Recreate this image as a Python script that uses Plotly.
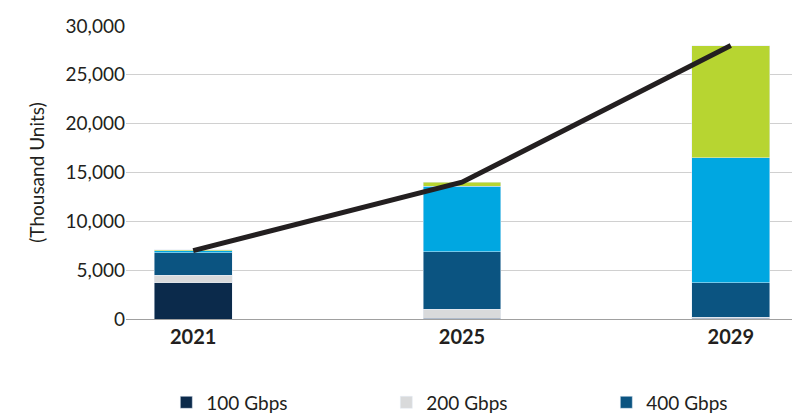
import plotly.graph_objects as go

years = ["2021", "2025", "2029"]
g100 = [3700, 100, 100]
g200 = [800, 900, 100]
g400 = [2300, 5900, 3500]
g800 = [200, 6700, 12800]
t16 = [100, 400, 11500]
total = [7000, 14000, 28000]

fig = go.Figure()
series = [("100 Gbps", g100, "#0b2a4b", "legend"), ("200 Gbps", g200, "#d9dadb", "legend"),
          ("400 Gbps", g400, "#0b5481", "legend"), ("800 Gbps", g800, "#00a7e1", "legend2"),
          ("1.6 Tbps", t16, "#b7d531", "legend2")]
for name, vals, col, lg in series:
    fig.add_trace(go.Bar(x=years, y=vals, name=name, marker_color=col, width=0.29, legend=lg))
fig.add_trace(go.Scatter(x=years, y=total, name="Total", mode="lines", legend="legend2",
                         line=dict(color="#231f20", width=5)))

leg = dict(orientation="h", x=0.06, xanchor="left", yanchor="top",
           entrywidth=175, entrywidthmode="pixels", font=dict(size=19),
           traceorder="normal", bgcolor="rgba(0,0,0,0)")
fig.update_layout(
    barmode="stack", width=800, height=415, plot_bgcolor="white", paper_bgcolor="white",
    font=dict(family="Lato", size=19, color="#231f20"),
    margin=dict(l=118, r=10, t=18, b=104, autoexpand=False),
    legend=dict(leg, y=-0.22),
    legend2=dict(leg, y=-0.37),
    yaxis=dict(range=[0, 30000], dtick=5000, tickformat=",", gridcolor="#d0d0d0",
               title=dict(text="(Thousand Units)", font=dict(size=19)), zeroline=False,
               showline=False),
    xaxis=dict(tickfont=dict(size=20, weight="bold"), showline=True,
               linecolor="#a0a0a0", range=[-0.25, 2.25]),
)
fig.write_html("out.html")
